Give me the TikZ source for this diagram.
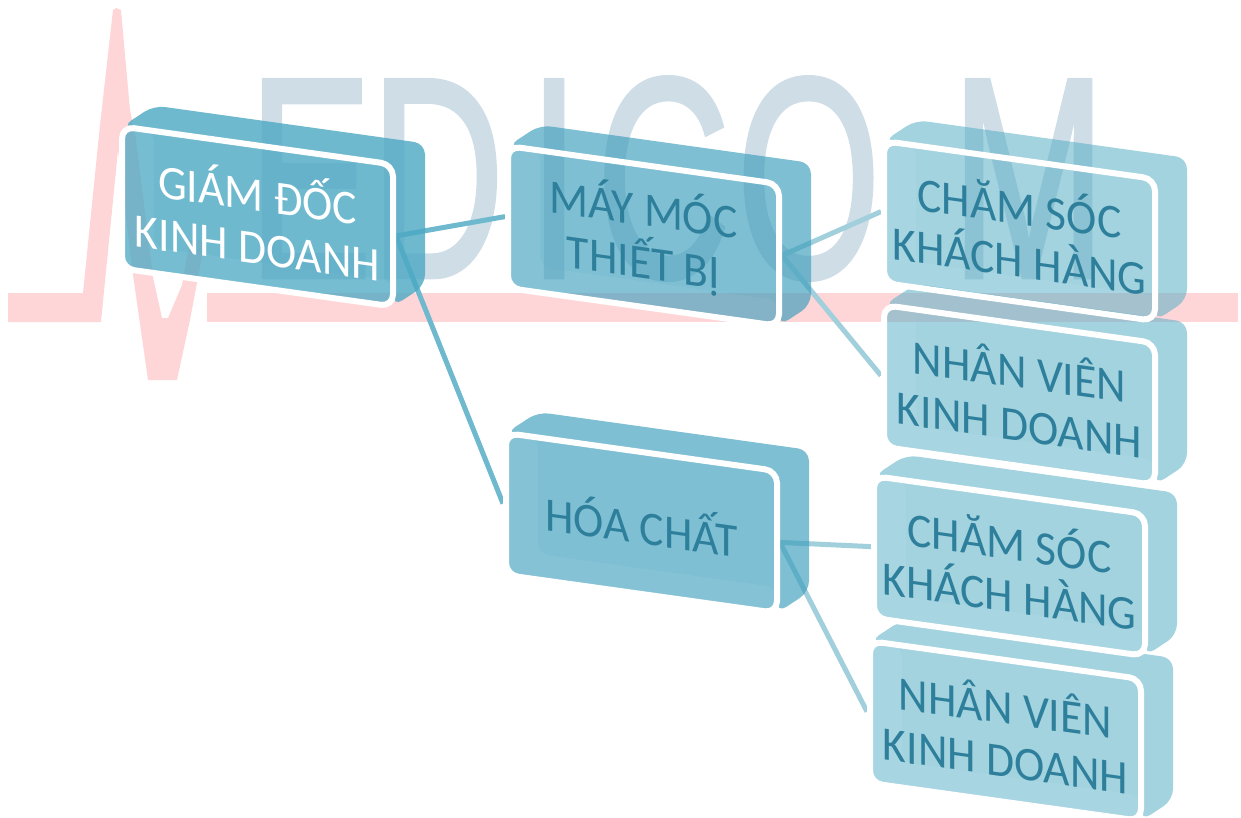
\documentclass[tikz,border=0pt]{standalone}
\usepackage{fontspec}
\setmainfont[FakeStretch=0.95]{Carlito}
\newfontfamily\markfont[FakeBold=1.6]{Liberation Sans}
\usetikzlibrary{positioning, arrows.meta}
\definecolor{headblue}{HTML}{4BA8C3}
\definecolor{midblue}{HTML}{3A9DBB}
\definecolor{leafblue}{HTML}{56AFC5}
\definecolor{headlink}{HTML}{6FB9CF}
\definecolor{leaflink}{HTML}{A2CFDC}
\definecolor{labelblue}{HTML}{2E7F9B}
\definecolor{markgrey}{HTML}{CFDDE7}
\definecolor{markpink}{HTML}{FFD6D8}
\pgfdeclarelayer{marks}
\pgfdeclarelayer{links}
\pgfsetlayers{marks,links,main}
\tikzset{
  block/.style={
    rectangle, rounded corners=12pt,
    minimum width=271pt, minimum height=142pt,
    inner sep=0pt, align=center,
    draw=white, line width=6pt,
    yslant=-0.14, transform shape,
    font=\fontsize{48}{53}\selectfont
  },
  head/.style={block, text=white},
  leaf/.style={block, text=labelblue},
  link/.style={line width=5pt}
}
% back and sides of one block, seen through
\newcommand{\blockbody}[4]{%
  \begin{scope}[shift={(#1,#2)}, yslant=-0.14, transparency group, opacity=#4]
    \fill[#3, rounded corners=11pt] (-135.5,-71) -- (-103.5,-96.5) -- (167.5,-96.5)
      -- (167.5,45.5) -- (135.5,71) -- (135.5,45.5) -- (-103.5,45.5) -- (-103.5,-71) -- cycle;
    \fill[#3, fill opacity=.95, rounded corners=12pt] (-135.5,-71) rectangle (135.5,71);
  \end{scope}
}

\begin{document}
\begin{tikzpicture}[x=1pt, y=-1pt]
\useasboundingbox (0,0) rectangle (1241,817);

% ------------------------------------------------
% Watermark
% ------------------------------------------------
\begin{pgfonlayer}{marks}
\fill[markpink] (8,293) -- (83,293) -- (100,125) -- (113,10) -- (116,8) -- (121,10)
  -- (130,110) -- (136,140) -- (153,277) -- (162,318) -- (168,318) -- (182,285)
  -- (190,240) -- (205,240) -- (190,320) -- (177,380) -- (148,380) -- (133,275)
  -- (118,150) -- (101,322) -- (8,322) -- cycle;
\fill[markpink] (207,293) rectangle (1238,322);
\node[text=markgrey, xscale=.65, transform shape, inner sep=0pt, anchor=base west,
  font=\markfont\fontsize{286}{286}\selectfont] (mark) at (248,277)
  {E\kern-3pt D\kern37pt I\kern25pt C\kern9pt O\kern108pt M};
\end{pgfonlayer}

% ------------------------------------------------
% Level 3, lowest first
% ------------------------------------------------
\blockbody{1005.5}{731}{leafblue}{.55}
\node[leaf] (n7) at (1005.5,731) {NHÂN VIÊN\\KINH DOANH};

\blockbody{1009.5}{566}{leafblue}{.55}
\node[leaf] (n6) at (1009.5,566) {CHĂM SÓC\\KHÁCH HÀNG};

\blockbody{1019.5}{395}{leafblue}{.55}
\node[leaf] (n5) at (1019.5,395) {NHÂN VIÊN\\KINH DOANH};

\blockbody{1019.5}{231}{leafblue}{.55}
\node[leaf] (n4) at (1019.5,231) {CHĂM SÓC\\KHÁCH HÀNG};

% ------------------------------------------------
% Level 2
% ------------------------------------------------
\blockbody{641.5}{523}{midblue}{.65}
\node[leaf] (n3) at (641.5,523) {HÓA CHẤT};

\blockbody{643.5}{236}{midblue}{.65}
\node[leaf] (n2) at (643.5,236) {MÁY MÓC\\THIẾT BỊ};

% ------------------------------------------------
% Level 1
% ------------------------------------------------
\blockbody{257.5}{216.5}{headblue}{.8}
\node[head] (n1) at (257.5,216.5) {GIÁM ĐỐC\\KINH DOANH};

% ------------------------------------------------
% Connectors
% ------------------------------------------------
\begin{pgfonlayer}{links}
\draw[link, headlink] (n1.east) -- (n2.west);
\draw[link, headlink] (n1.east) -- (n3.west);
\draw[link, leaflink] (n2.east) -- (n4.west);
\draw[link, leaflink] (n2.east) -- (n5.west);
\draw[link, leaflink] (n3.east) -- (n6.west);
\draw[link, leaflink] (n3.east) -- (n7.west);
\end{pgfonlayer}

\end{tikzpicture}
\end{document}
